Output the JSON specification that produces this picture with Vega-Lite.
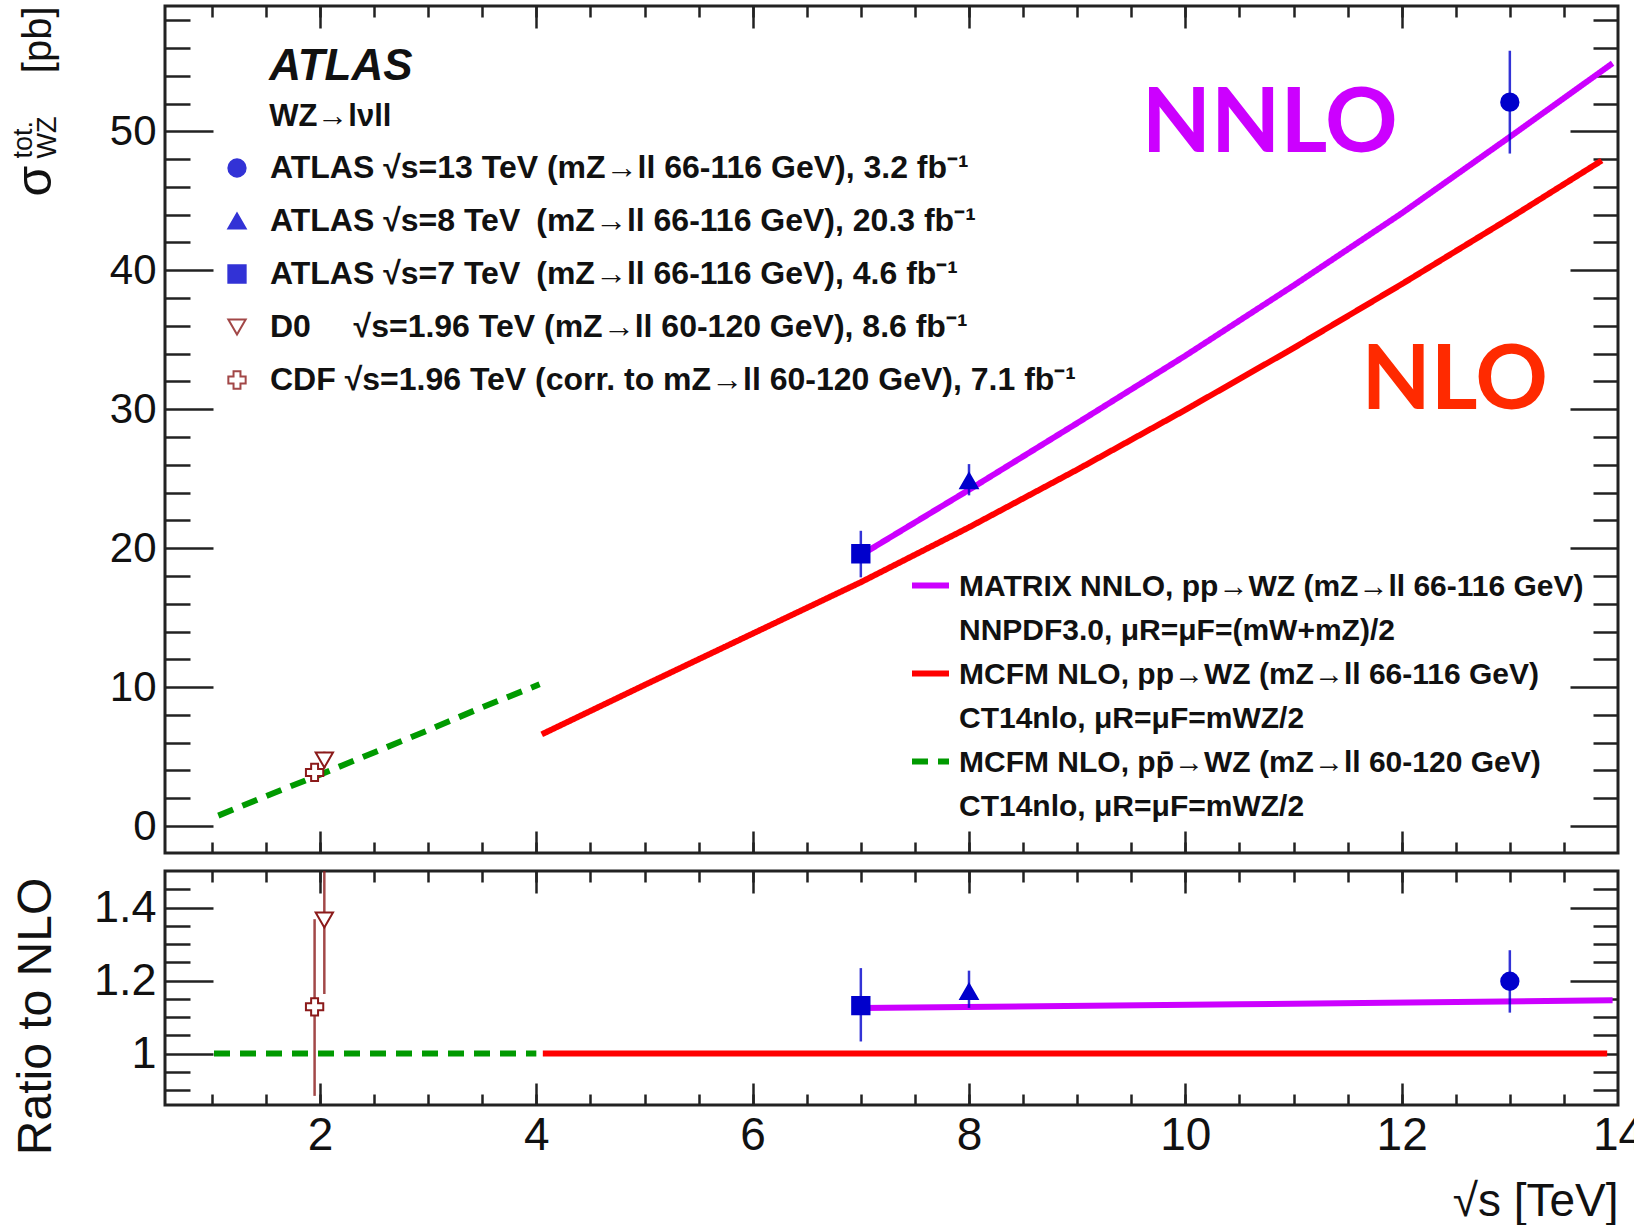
{
  "$schema": "https://vega.github.io/schema/vega-lite/v6.json",
  "padding": {"left": 7, "top": 3, "right": 0, "bottom": 0},
  "background": "white",
  "spacing": 12,
  "resolve": {"legend": {"shape": "independent", "fill": "independent", "stroke": "independent", "color": "independent", "strokeDash": "independent"}},
  "config": {
    "font": "Liberation Sans",
    "view": {"stroke": "#222", "strokeWidth": 3},
    "axis": {"grid": false, "domain": false, "tickColor": "#222", "tickWidth": 2.5, "labelColor": "#111", "titleColor": "#111", "labelFont": "Liberation Sans", "titleFont": "Liberation Sans", "titleFontWeight": "normal", "labelFlush": false, "labelOverlap": false},
    "legend": {"padding": 0, "offset": 0, "labelFont": "Liberation Sans", "titleFont": "Liberation Sans", "labelColor": "#111", "titleColor": "#111"}
  },
  "datasets": {
    "curves": [
      {"curve": "MCFM NLO, pp̄→WZ (mZ→ll 60-120 GeV)|CT14nlo, μR=μF=mWZ/2", "sqrt_s": 1.06, "sigma": 0.75},
      {"curve": "MCFM NLO, pp̄→WZ (mZ→ll 60-120 GeV)|CT14nlo, μR=μF=mWZ/2", "sqrt_s": 1.5, "sigma": 2.15},
      {"curve": "MCFM NLO, pp̄→WZ (mZ→ll 60-120 GeV)|CT14nlo, μR=μF=mWZ/2", "sqrt_s": 2.0, "sigma": 3.7},
      {"curve": "MCFM NLO, pp̄→WZ (mZ→ll 60-120 GeV)|CT14nlo, μR=μF=mWZ/2", "sqrt_s": 2.5, "sigma": 5.3},
      {"curve": "MCFM NLO, pp̄→WZ (mZ→ll 60-120 GeV)|CT14nlo, μR=μF=mWZ/2", "sqrt_s": 3.0, "sigma": 6.9},
      {"curve": "MCFM NLO, pp̄→WZ (mZ→ll 60-120 GeV)|CT14nlo, μR=μF=mWZ/2", "sqrt_s": 3.5, "sigma": 8.55},
      {"curve": "MCFM NLO, pp̄→WZ (mZ→ll 60-120 GeV)|CT14nlo, μR=μF=mWZ/2", "sqrt_s": 4.03, "sigma": 10.2},
      {"curve": "MCFM NLO, pp→WZ (mZ→ll 66-116 GeV)|CT14nlo, μR=μF=mWZ/2", "sqrt_s": 4.05, "sigma": 6.6},
      {"curve": "MCFM NLO, pp→WZ (mZ→ll 66-116 GeV)|CT14nlo, μR=μF=mWZ/2", "sqrt_s": 5, "sigma": 10.15},
      {"curve": "MCFM NLO, pp→WZ (mZ→ll 66-116 GeV)|CT14nlo, μR=μF=mWZ/2", "sqrt_s": 6, "sigma": 13.85},
      {"curve": "MCFM NLO, pp→WZ (mZ→ll 66-116 GeV)|CT14nlo, μR=μF=mWZ/2", "sqrt_s": 7, "sigma": 17.55},
      {"curve": "MCFM NLO, pp→WZ (mZ→ll 66-116 GeV)|CT14nlo, μR=μF=mWZ/2", "sqrt_s": 8, "sigma": 21.5},
      {"curve": "MCFM NLO, pp→WZ (mZ→ll 66-116 GeV)|CT14nlo, μR=μF=mWZ/2", "sqrt_s": 9, "sigma": 25.65},
      {"curve": "MCFM NLO, pp→WZ (mZ→ll 66-116 GeV)|CT14nlo, μR=μF=mWZ/2", "sqrt_s": 10, "sigma": 29.95},
      {"curve": "MCFM NLO, pp→WZ (mZ→ll 66-116 GeV)|CT14nlo, μR=μF=mWZ/2", "sqrt_s": 11, "sigma": 34.4},
      {"curve": "MCFM NLO, pp→WZ (mZ→ll 66-116 GeV)|CT14nlo, μR=μF=mWZ/2", "sqrt_s": 12, "sigma": 39.0},
      {"curve": "MCFM NLO, pp→WZ (mZ→ll 66-116 GeV)|CT14nlo, μR=μF=mWZ/2", "sqrt_s": 13, "sigma": 43.75},
      {"curve": "MCFM NLO, pp→WZ (mZ→ll 66-116 GeV)|CT14nlo, μR=μF=mWZ/2", "sqrt_s": 13.85, "sigma": 47.9},
      {"curve": "MATRIX NNLO, pp→WZ (mZ→ll 66-116 GeV)|NNPDF3.0, μR=μF=(mW+mZ)/2", "sqrt_s": 7.0, "sigma": 19.5},
      {"curve": "MATRIX NNLO, pp→WZ (mZ→ll 66-116 GeV)|NNPDF3.0, μR=μF=(mW+mZ)/2", "sqrt_s": 8, "sigma": 24.2},
      {"curve": "MATRIX NNLO, pp→WZ (mZ→ll 66-116 GeV)|NNPDF3.0, μR=μF=(mW+mZ)/2", "sqrt_s": 9, "sigma": 29.0},
      {"curve": "MATRIX NNLO, pp→WZ (mZ→ll 66-116 GeV)|NNPDF3.0, μR=μF=(mW+mZ)/2", "sqrt_s": 10, "sigma": 33.85},
      {"curve": "MATRIX NNLO, pp→WZ (mZ→ll 66-116 GeV)|NNPDF3.0, μR=μF=(mW+mZ)/2", "sqrt_s": 11, "sigma": 38.9},
      {"curve": "MATRIX NNLO, pp→WZ (mZ→ll 66-116 GeV)|NNPDF3.0, μR=μF=(mW+mZ)/2", "sqrt_s": 12, "sigma": 44.1},
      {"curve": "MATRIX NNLO, pp→WZ (mZ→ll 66-116 GeV)|NNPDF3.0, μR=μF=(mW+mZ)/2", "sqrt_s": 13, "sigma": 49.6},
      {"curve": "MATRIX NNLO, pp→WZ (mZ→ll 66-116 GeV)|NNPDF3.0, μR=μF=(mW+mZ)/2", "sqrt_s": 13.95, "sigma": 54.9}
    ],
    "ratio_curves": [
      {"curve": "MCFM NLO, pp̄→WZ (mZ→ll 60-120 GeV)|CT14nlo, μR=μF=mWZ/2", "sqrt_s": 1.02, "ratio": 1.0},
      {"curve": "MCFM NLO, pp̄→WZ (mZ→ll 60-120 GeV)|CT14nlo, μR=μF=mWZ/2", "sqrt_s": 4.0, "ratio": 1.0},
      {"curve": "MCFM NLO, pp→WZ (mZ→ll 66-116 GeV)|CT14nlo, μR=μF=mWZ/2", "sqrt_s": 4.06, "ratio": 1.0},
      {"curve": "MCFM NLO, pp→WZ (mZ→ll 66-116 GeV)|CT14nlo, μR=μF=mWZ/2", "sqrt_s": 13.9, "ratio": 1.0},
      {"curve": "MATRIX NNLO, pp→WZ (mZ→ll 66-116 GeV)|NNPDF3.0, μR=μF=(mW+mZ)/2", "sqrt_s": 7.0, "ratio": 1.125},
      {"curve": "MATRIX NNLO, pp→WZ (mZ→ll 66-116 GeV)|NNPDF3.0, μR=μF=(mW+mZ)/2", "sqrt_s": 10.5, "ratio": 1.135},
      {"curve": "MATRIX NNLO, pp→WZ (mZ→ll 66-116 GeV)|NNPDF3.0, μR=μF=(mW+mZ)/2", "sqrt_s": 13.95, "ratio": 1.146}
    ],
    "measurements": [
      {"sample": "ATLAS √s=13 TeV (mZ→ll 66-116 GeV), 3.2 fb⁻¹", "sqrt_s": 13, "sigma": 52.1, "sigma_lo": 48.4, "sigma_hi": 55.8, "ratio": 1.198, "ratio_lo": 1.112, "ratio_hi": 1.283},
      {"sample": "ATLAS √s=8 TeV\u2002(mZ→ll 66-116 GeV), 20.3 fb⁻¹", "sqrt_s": 8, "sigma": 24.85, "sigma_lo": 23.8, "sigma_hi": 26.05, "ratio": 1.17, "ratio_lo": 1.125, "ratio_hi": 1.227},
      {"sample": "ATLAS √s=7 TeV\u2002(mZ→ll 66-116 GeV), 4.6 fb⁻¹", "sqrt_s": 7, "sigma": 19.6, "sigma_lo": 17.9, "sigma_hi": 21.25, "ratio": 1.131, "ratio_lo": 1.033, "ratio_hi": 1.234},
      {"sample": "D0\u2003\u2004√s=1.96 TeV (mZ→ll 60-120 GeV), 8.6 fb⁻¹", "sqrt_s": 2.04, "sigma": 4.75, "sigma_lo": 4.15, "sigma_hi": 5.35, "ratio": 1.366, "ratio_lo": 1.163, "ratio_hi": 1.57},
      {"sample": "CDF √s=1.96 TeV (corr. to mZ→ll 60-120 GeV), 7.1 fb⁻¹", "sqrt_s": 1.95, "sigma": 3.86, "sigma_lo": 3.3, "sigma_hi": 4.45, "ratio": 1.128, "ratio_lo": 0.884, "ratio_hi": 1.368}
    ],
    "labels": [
      {"label": "NNLO", "sqrt_s": 10.78, "sigma": 48.5},
      {"label": "NLO", "sqrt_s": 12.49, "sigma": 30.0},
      {"label": "ATLAS", "sqrt_s": 1.53, "sigma": 53.7},
      {"label": "WZ→lνll", "sqrt_s": 1.53, "sigma": 50.4}
    ]
  },
  "vconcat": [
    {
      "width": 1453,
      "height": 847,
      "resolve": {"axis": {"x": "independent", "y": "independent"}},
      "layer": [
        {
          "data": {"name": "curves"},
          "mark": {"type": "line", "strokeWidth": 6, "clip": true},
          "encoding": {
            "x": {"field": "sqrt_s", "type": "quantitative", "scale": {"domain": [0.567, 14], "nice": false, "zero": false},
              "axis": {"orient": "bottom", "values": [2, 4, 6, 8, 10, 12], "labels": false, "ticks": true, "tickSize": -22, "title": null}},
            "y": {"field": "sigma", "type": "quantitative", "scale": {"domain": [-1.94, 59.02], "nice": false, "zero": false},
              "axis": {"orient": "left", "values": [0, 10, 20, 30, 40, 50], "ticks": false, "labelFontSize": 42, "labelPadding": 9,
                "title": "σ", "titleFontSize": 50, "titleAngle": -90, "titleAlign": "left", "titleBaseline": "alphabetic", "titleX": -115, "titleY": 190}},
            "color": {"field": "curve", "type": "nominal",
              "scale": {"domain": ["MATRIX NNLO, pp→WZ (mZ→ll 66-116 GeV)|NNPDF3.0, μR=μF=(mW+mZ)/2", "MCFM NLO, pp→WZ (mZ→ll 66-116 GeV)|CT14nlo, μR=μF=mWZ/2", "MCFM NLO, pp̄→WZ (mZ→ll 60-120 GeV)|CT14nlo, μR=μF=mWZ/2"], "range": ["#cc00ff", "#ff0000", "#009a00"]},
              "legend": {"orient": "none", "legendX": 744, "legendY": 558, "title": null, "labelFontSize": 30, "labelFontWeight": "bold", "labelLimit": 0, "labelOffset": 7, "symbolType": "stroke", "symbolSize": 1369, "symbolStrokeWidth": 6, "rowPadding": 6, "labelExpr": "split(datum.label, '|')", "labelBaseline": "alphabetic", "encode": {"labels": {"update": {"lineHeight": {"value": 44}, "dy": {"value": 10}}}}}},
            "strokeDash": {"field": "curve", "type": "nominal",
              "scale": {"domain": ["MATRIX NNLO, pp→WZ (mZ→ll 66-116 GeV)|NNPDF3.0, μR=μF=(mW+mZ)/2", "MCFM NLO, pp→WZ (mZ→ll 66-116 GeV)|CT14nlo, μR=μF=mWZ/2", "MCFM NLO, pp̄→WZ (mZ→ll 60-120 GeV)|CT14nlo, μR=μF=mWZ/2"], "range": [[1, 0], [1, 0], [16, 10]]},
              "legend": {"orient": "none", "legendX": 744, "legendY": 558, "title": null, "labelFontSize": 30, "labelFontWeight": "bold", "labelLimit": 0, "labelOffset": 7, "symbolType": "stroke", "symbolSize": 1369, "symbolStrokeWidth": 6, "rowPadding": 6, "labelExpr": "split(datum.label, '|')", "labelBaseline": "alphabetic", "encode": {"labels": {"update": {"lineHeight": {"value": 44}, "dy": {"value": 10}}}}}}
          }
        },
        {
          "data": {"name": "measurements"},
          "mark": {"type": "rule", "strokeWidth": 2.5, "opacity": 0.8},
          "encoding": {
            "x": {"field": "sqrt_s", "type": "quantitative", "scale": {"domain": [0.567, 14], "nice": false, "zero": false},
              "axis": {"orient": "bottom", "values": [1, 1.5, 2, 2.5, 3, 3.5, 4, 4.5, 5, 5.5, 6, 6.5, 7, 7.5, 8, 8.5, 9, 9.5, 10, 10.5, 11, 11.5, 12, 12.5, 13, 13.5], "labels": false, "ticks": true, "tickSize": -11, "title": null}},
            "y": {"field": "sigma_lo", "type": "quantitative", "scale": {"domain": [-1.94, 59.02], "nice": false, "zero": false},
              "axis": {"orient": "left", "values": [0, 10, 20, 30, 40, 50], "labels": false, "ticks": true, "tickSize": -48,
                "title": "[pb]", "titleFontSize": 40, "titleAngle": -90, "titleAlign": "right", "titleBaseline": "alphabetic", "titleX": -115, "titleY": 0}},
            "y2": {"field": "sigma_hi"},
            "stroke": {"field": "sample", "type": "nominal",
              "scale": {"domain": ["ATLAS √s=13 TeV (mZ→ll 66-116 GeV), 3.2 fb⁻¹", "ATLAS √s=8 TeV\u2002(mZ→ll 66-116 GeV), 20.3 fb⁻¹", "ATLAS √s=7 TeV\u2002(mZ→ll 66-116 GeV), 4.6 fb⁻¹", "D0\u2003\u2004√s=1.96 TeV (mZ→ll 60-120 GeV), 8.6 fb⁻¹", "CDF √s=1.96 TeV (corr. to mZ→ll 60-120 GeV), 7.1 fb⁻¹"], "range": ["#0000cc", "#0000cc", "#0000cc", "#8b1a1a", "#8b1a1a"]},
              "legend": {"orient": "none", "legendX": 56, "legendY": 146, "title": null, "labelFontSize": 32, "labelFontWeight": "bold", "labelLimit": 0, "labelOffset": 17, "symbolSize": 300, "symbolStrokeWidth": 2, "symbolType": "circle", "rowPadding": 21}}
          }
        },
        {
          "data": {"name": "measurements"},
          "mark": {"type": "point", "filled": true, "size": 300, "strokeWidth": 2, "opacity": 1},
          "encoding": {
            "x": {"field": "sqrt_s", "type": "quantitative", "scale": {"domain": [0.567, 14], "nice": false, "zero": false},
              "axis": {"orient": "top", "values": [2, 4, 6, 8, 10, 12], "labels": false, "ticks": true, "tickSize": -22, "title": null}},
            "y": {"field": "sigma", "type": "quantitative", "scale": {"domain": [-1.94, 59.02], "nice": false, "zero": false},
              "axis": {"orient": "left", "values": [2, 4, 6, 8, 12, 14, 16, 18, 22, 24, 26, 28, 32, 34, 36, 38, 42, 44, 46, 48, 52, 54, 56, 58], "labels": false, "ticks": true, "tickSize": -25,
                "title": "tot.", "titleFontSize": 27, "titleAngle": -90, "titleAlign": "left", "titleBaseline": "alphabetic", "titleX": -134, "titleY": 152}},
            "shape": {"field": "sample", "type": "nominal",
              "scale": {"domain": ["ATLAS √s=13 TeV (mZ→ll 66-116 GeV), 3.2 fb⁻¹", "ATLAS √s=8 TeV\u2002(mZ→ll 66-116 GeV), 20.3 fb⁻¹", "ATLAS √s=7 TeV\u2002(mZ→ll 66-116 GeV), 4.6 fb⁻¹", "D0\u2003\u2004√s=1.96 TeV (mZ→ll 60-120 GeV), 8.6 fb⁻¹", "CDF √s=1.96 TeV (corr. to mZ→ll 60-120 GeV), 7.1 fb⁻¹"], "range": ["circle", "triangle-up", "square", "triangle-down", "cross"]},
              "legend": {"orient": "none", "legendX": 56, "legendY": 146, "title": null, "labelFontSize": 32, "labelFontWeight": "bold", "labelLimit": 0, "labelOffset": 17, "symbolSize": 300, "symbolStrokeWidth": 2, "rowPadding": 21}},
            "fill": {"field": "sample", "type": "nominal",
              "scale": {"domain": ["ATLAS √s=13 TeV (mZ→ll 66-116 GeV), 3.2 fb⁻¹", "ATLAS √s=8 TeV\u2002(mZ→ll 66-116 GeV), 20.3 fb⁻¹", "ATLAS √s=7 TeV\u2002(mZ→ll 66-116 GeV), 4.6 fb⁻¹", "D0\u2003\u2004√s=1.96 TeV (mZ→ll 60-120 GeV), 8.6 fb⁻¹", "CDF √s=1.96 TeV (corr. to mZ→ll 60-120 GeV), 7.1 fb⁻¹"], "range": ["#0000cc", "#0000cc", "#0000cc", "#ffffff", "#ffffff"]},
              "legend": {"orient": "none", "legendX": 56, "legendY": 146, "title": null, "labelFontSize": 32, "labelFontWeight": "bold", "labelLimit": 0, "labelOffset": 17, "symbolSize": 300, "symbolStrokeWidth": 2, "rowPadding": 21}},
            "stroke": {"field": "sample", "type": "nominal",
              "scale": {"domain": ["ATLAS √s=13 TeV (mZ→ll 66-116 GeV), 3.2 fb⁻¹", "ATLAS √s=8 TeV\u2002(mZ→ll 66-116 GeV), 20.3 fb⁻¹", "ATLAS √s=7 TeV\u2002(mZ→ll 66-116 GeV), 4.6 fb⁻¹", "D0\u2003\u2004√s=1.96 TeV (mZ→ll 60-120 GeV), 8.6 fb⁻¹", "CDF √s=1.96 TeV (corr. to mZ→ll 60-120 GeV), 7.1 fb⁻¹"], "range": ["#0000cc", "#0000cc", "#0000cc", "#8b1a1a", "#8b1a1a"]},
              "legend": {"orient": "none", "legendX": 56, "legendY": 146, "title": null, "labelFontSize": 32, "labelFontWeight": "bold", "labelLimit": 0, "labelOffset": 17, "symbolSize": 300, "symbolStrokeWidth": 2, "rowPadding": 21}}
          }
        },
        {
          "data": {"name": "labels"},
          "transform": [{"filter": "datum.label == 'NNLO'"}],
          "mark": {"type": "text", "font": "Lato", "fontWeight": "bold", "fontSize": 90, "fill": "#cc00ff", "align": "center", "baseline": "alphabetic"},
          "encoding": {
            "x": {"field": "sqrt_s", "type": "quantitative", "scale": {"domain": [0.567, 14], "nice": false, "zero": false},
              "axis": {"orient": "top", "values": [1, 1.5, 2, 2.5, 3, 3.5, 4, 4.5, 5, 5.5, 6, 6.5, 7, 7.5, 8, 8.5, 9, 9.5, 10, 10.5, 11, 11.5, 12, 12.5, 13, 13.5], "labels": false, "ticks": true, "tickSize": -11, "title": null}},
            "y": {"field": "sigma", "type": "quantitative", "scale": {"domain": [-1.94, 59.02], "nice": false, "zero": false},
              "axis": {"orient": "right", "values": [0, 10, 20, 30, 40, 50], "labels": false, "ticks": true, "tickSize": -48,
                "title": "WZ", "titleFontSize": 27, "titleAngle": -90, "titleAlign": "left", "titleBaseline": "alphabetic", "titleX": -1563, "titleY": 152}},
            "text": {"field": "label"}
          }
        },
        {
          "data": {"name": "labels"},
          "transform": [{"filter": "datum.label == 'NLO'"}],
          "mark": {"type": "text", "font": "Lato", "fontWeight": "bold", "fontSize": 90, "fill": "#ff2a00", "align": "center", "baseline": "alphabetic"},
          "encoding": {
            "x": {"field": "sqrt_s", "type": "quantitative", "scale": {"domain": [0.567, 14], "nice": false, "zero": false}, "axis": null},
            "y": {"field": "sigma", "type": "quantitative", "scale": {"domain": [-1.94, 59.02], "nice": false, "zero": false},
              "axis": {"orient": "right", "values": [2, 4, 6, 8, 12, 14, 16, 18, 22, 24, 26, 28, 32, 34, 36, 38, 42, 44, 46, 48, 52, 54, 56, 58], "labels": false, "ticks": true, "tickSize": -25, "title": null}},
            "text": {"field": "label"}
          }
        },
        {
          "data": {"name": "labels"},
          "transform": [{"filter": "datum.label == 'ATLAS'"}],
          "mark": {"type": "text", "font": "Liberation Sans", "fontWeight": "bold", "fontStyle": "italic", "fontSize": 44, "fill": "#111", "align": "left", "baseline": "alphabetic"},
          "encoding": {
            "x": {"field": "sqrt_s", "type": "quantitative", "scale": {"domain": [0.567, 14], "nice": false, "zero": false}, "axis": null},
            "y": {"field": "sigma", "type": "quantitative", "scale": {"domain": [-1.94, 59.02], "nice": false, "zero": false}, "axis": null},
            "text": {"field": "label"}
          }
        },
        {
          "data": {"name": "labels"},
          "transform": [{"filter": "datum.label == 'WZ→lνll'"}],
          "mark": {"type": "text", "font": "Liberation Sans", "fontWeight": "bold", "fontSize": 31, "fill": "#111", "align": "left", "baseline": "alphabetic"},
          "encoding": {
            "x": {"field": "sqrt_s", "type": "quantitative", "scale": {"domain": [0.567, 14], "nice": false, "zero": false}, "axis": null},
            "y": {"field": "sigma", "type": "quantitative", "scale": {"domain": [-1.94, 59.02], "nice": false, "zero": false}, "axis": null},
            "text": {"field": "label"}
          }
        }
      ]
    },
    {
      "width": 1453,
      "height": 234,
      "resolve": {"axis": {"x": "independent", "y": "independent"}},
      "layer": [
        {
          "data": {"name": "ratio_curves"},
          "transform": [{"filter": "indexof(datum.curve, 'pp̄') >= 0"}],
          "mark": {"type": "line", "strokeWidth": 6, "strokeDash": [16, 10], "clip": true, "color": "#009a00"},
          "encoding": {
            "x": {"field": "sqrt_s", "type": "quantitative", "scale": {"domain": [0.567, 14], "nice": false, "zero": false},
              "axis": {"orient": "bottom", "values": [2, 4, 6, 8, 10, 12, 14], "ticks": false, "labelFontSize": 46, "labelPadding": 8,
                "title": "√s [TeV]", "titleFontSize": 46, "titleAlign": "right", "titleBaseline": "alphabetic", "titleX": 1453, "titleY": 110}},
            "y": {"field": "ratio", "type": "quantitative", "scale": {"domain": [0.859, 1.5], "nice": false, "zero": false},
              "axis": {"orient": "left", "values": [1, 1.2, 1.4], "format": "~g", "ticks": false, "labelFontSize": 45, "labelPadding": 9,
                "title": "Ratio to NLO", "titleFontSize": 48, "titleAngle": -90, "titleAlign": "center", "titleBaseline": "alphabetic", "titleX": -115, "titleY": 145}}
          }
        },
        {
          "data": {"name": "ratio_curves"},
          "transform": [{"filter": "indexof(datum.curve, 'MCFM NLO, pp→') >= 0"}],
          "mark": {"type": "line", "strokeWidth": 6, "clip": true, "color": "#ff0000"},
          "encoding": {
            "x": {"field": "sqrt_s", "type": "quantitative", "scale": {"domain": [0.567, 14], "nice": false, "zero": false},
              "axis": {"orient": "bottom", "values": [2, 4, 6, 8, 10, 12], "labels": false, "ticks": true, "tickSize": -22, "title": null}},
            "y": {"field": "ratio", "type": "quantitative", "scale": {"domain": [0.859, 1.5], "nice": false, "zero": false},
              "axis": {"orient": "left", "values": [1, 1.2, 1.4], "labels": false, "ticks": true, "tickSize": -48, "title": null}}
          }
        },
        {
          "data": {"name": "ratio_curves"},
          "transform": [{"filter": "indexof(datum.curve, 'MATRIX') >= 0"}],
          "mark": {"type": "line", "strokeWidth": 6, "clip": true, "color": "#cc00ff"},
          "encoding": {
            "x": {"field": "sqrt_s", "type": "quantitative", "scale": {"domain": [0.567, 14], "nice": false, "zero": false},
              "axis": {"orient": "bottom", "values": [1, 1.5, 2, 2.5, 3, 3.5, 4, 4.5, 5, 5.5, 6, 6.5, 7, 7.5, 8, 8.5, 9, 9.5, 10, 10.5, 11, 11.5, 12, 12.5, 13, 13.5], "labels": false, "ticks": true, "tickSize": -11, "title": null}},
            "y": {"field": "ratio", "type": "quantitative", "scale": {"domain": [0.859, 1.5], "nice": false, "zero": false},
              "axis": {"orient": "left", "values": [0.9, 0.95, 1.05, 1.1, 1.15, 1.25, 1.3, 1.35, 1.45], "labels": false, "ticks": true, "tickSize": -25, "title": null}}
          }
        },
        {
          "data": {"name": "measurements"},
          "mark": {"type": "rule", "strokeWidth": 2.5, "opacity": 0.8, "clip": true},
          "encoding": {
            "x": {"field": "sqrt_s", "type": "quantitative", "scale": {"domain": [0.567, 14], "nice": false, "zero": false},
              "axis": {"orient": "top", "values": [2, 4, 6, 8, 10, 12], "labels": false, "ticks": true, "tickSize": -22, "title": null}},
            "y": {"field": "ratio_lo", "type": "quantitative", "scale": {"domain": [0.859, 1.5], "nice": false, "zero": false},
              "axis": {"orient": "right", "values": [1, 1.2, 1.4], "labels": false, "ticks": true, "tickSize": -48, "title": null}},
            "y2": {"field": "ratio_hi"},
            "stroke": {"field": "sample", "type": "nominal",
              "scale": {"domain": ["ATLAS √s=13 TeV (mZ→ll 66-116 GeV), 3.2 fb⁻¹", "ATLAS √s=8 TeV\u2002(mZ→ll 66-116 GeV), 20.3 fb⁻¹", "ATLAS √s=7 TeV\u2002(mZ→ll 66-116 GeV), 4.6 fb⁻¹", "D0\u2003\u2004√s=1.96 TeV (mZ→ll 60-120 GeV), 8.6 fb⁻¹", "CDF √s=1.96 TeV (corr. to mZ→ll 60-120 GeV), 7.1 fb⁻¹"], "range": ["#0000cc", "#0000cc", "#0000cc", "#8b1a1a", "#8b1a1a"]},
              "legend": null}
          }
        },
        {
          "data": {"name": "measurements"},
          "mark": {"type": "point", "filled": true, "size": 300, "strokeWidth": 2, "opacity": 1},
          "encoding": {
            "x": {"field": "sqrt_s", "type": "quantitative", "scale": {"domain": [0.567, 14], "nice": false, "zero": false},
              "axis": {"orient": "top", "values": [1, 1.5, 2, 2.5, 3, 3.5, 4, 4.5, 5, 5.5, 6, 6.5, 7, 7.5, 8, 8.5, 9, 9.5, 10, 10.5, 11, 11.5, 12, 12.5, 13, 13.5], "labels": false, "ticks": true, "tickSize": -11, "title": null}},
            "y": {"field": "ratio", "type": "quantitative", "scale": {"domain": [0.859, 1.5], "nice": false, "zero": false},
              "axis": {"orient": "right", "values": [0.9, 0.95, 1.05, 1.1, 1.15, 1.25, 1.3, 1.35, 1.45], "labels": false, "ticks": true, "tickSize": -25, "title": null}},
            "shape": {"field": "sample", "type": "nominal",
              "scale": {"domain": ["ATLAS √s=13 TeV (mZ→ll 66-116 GeV), 3.2 fb⁻¹", "ATLAS √s=8 TeV\u2002(mZ→ll 66-116 GeV), 20.3 fb⁻¹", "ATLAS √s=7 TeV\u2002(mZ→ll 66-116 GeV), 4.6 fb⁻¹", "D0\u2003\u2004√s=1.96 TeV (mZ→ll 60-120 GeV), 8.6 fb⁻¹", "CDF √s=1.96 TeV (corr. to mZ→ll 60-120 GeV), 7.1 fb⁻¹"], "range": ["circle", "triangle-up", "square", "triangle-down", "cross"]},
              "legend": null},
            "fill": {"field": "sample", "type": "nominal",
              "scale": {"domain": ["ATLAS √s=13 TeV (mZ→ll 66-116 GeV), 3.2 fb⁻¹", "ATLAS √s=8 TeV\u2002(mZ→ll 66-116 GeV), 20.3 fb⁻¹", "ATLAS √s=7 TeV\u2002(mZ→ll 66-116 GeV), 4.6 fb⁻¹", "D0\u2003\u2004√s=1.96 TeV (mZ→ll 60-120 GeV), 8.6 fb⁻¹", "CDF √s=1.96 TeV (corr. to mZ→ll 60-120 GeV), 7.1 fb⁻¹"], "range": ["#0000cc", "#0000cc", "#0000cc", "#ffffff", "#ffffff"]},
              "legend": null},
            "stroke": {"field": "sample", "type": "nominal",
              "scale": {"domain": ["ATLAS √s=13 TeV (mZ→ll 66-116 GeV), 3.2 fb⁻¹", "ATLAS √s=8 TeV\u2002(mZ→ll 66-116 GeV), 20.3 fb⁻¹", "ATLAS √s=7 TeV\u2002(mZ→ll 66-116 GeV), 4.6 fb⁻¹", "D0\u2003\u2004√s=1.96 TeV (mZ→ll 60-120 GeV), 8.6 fb⁻¹", "CDF √s=1.96 TeV (corr. to mZ→ll 60-120 GeV), 7.1 fb⁻¹"], "range": ["#0000cc", "#0000cc", "#0000cc", "#8b1a1a", "#8b1a1a"]},
              "legend": null}
          }
        }
      ]
    }
  ]
}
